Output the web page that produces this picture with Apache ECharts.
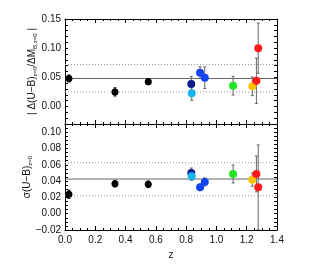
<!DOCTYPE html>
<html><head><meta charset="utf-8">
<script src="https://cdn.jsdelivr.net/npm/echarts@6/dist/echarts.min.js"></script>
<style>html,body{margin:0;padding:0;background:#fff}#c{width:328px;height:279px}</style>
</head><body><div id="c"></div>
<script>
// redshifts of the samples
const zVals   = [0.026, 0.33, 0.55, 0.834, 0.837, 0.892, 0.923, 1.11, 1.237, 1.264, 1.276];
const colors  = ['#000000','#000000','#000000','#0c1a8c','#18b4f0','#1244f2','#1244f2','#22e622','#ffc000','#ff1a1a','#ff1a1a'];
// top panel: |Δ(U-B)/ΔM_B|
const topVals = [0.048, 0.025, 0.0425, 0.0386, 0.0226, 0.058, 0.0495, 0.0357, 0.0346, 0.044, 0.0998];
const topErr  = [0.006, 0.007, 0.005, 0.013, 0.012, 0.010, 0.0185, 0.016, 0.016, 0.039, 0.043];
const topRef  = [0.048, 0.072, 0.025];   // solid, dotted, dotted
// bottom panel: σ(U-B)
const botVals = [0.0238, 0.0368, 0.036, 0.050, 0.0458, 0.0323, 0.039, 0.0487, 0.0417, 0.0487, 0.0323];
const botErr  = [0.005, 0.004, 0.004, 0.006, 0.005, 0.004, 0.005, 0.011, 0.008, 0.022, 0.052];
const botRef  = [0.0425, 0.0625, 0.022];

const font = 'Liberation Sans, Arial, sans-serif';
const grids = [
  {left: 65, right: 51, top: 19, height: 105},
  {left: 65, right: 51, top: 124, height: 106}
];
function xAx(gi, show, pos) {
  return {type:'value', gridIndex: gi, min:0, max:1.4, interval:0.2, position: pos,
    axisLine:{show:true, onZero:false, lineStyle:{color:'#000', width:1}},
    axisTick:{show:true, inside:true, length:4, lineStyle:{color:'#000'}},
    minorTick:{show:true, splitNumber:4, length:2, lineStyle:{color:'#000'}},
    splitLine:{show:false},
    axisLabel:{show: show, color:'#111', fontSize:10, fontFamily:font, margin:5,
      formatter: v => v.toFixed(1)},
    name: show ? 'z' : '', nameLocation:'middle', nameGap:20,
    nameTextStyle:{color:'#111', fontSize:10, fontFamily:font}
  };
}
function yAx(gi, min, max, step, major, pos, name, gap) {
  return {type:'value', gridIndex: gi, min:min, max:max, interval:step, position: pos,
    axisLine:{show:true, onZero:false, lineStyle:{color:'#000', width:1}},
    axisTick:{show:true, inside:true, length:3, lineStyle:{color:'#000'}},
    splitLine:{show:false},
    axisLabel:{show: pos === 'left', color:'#111', fontSize:10, fontFamily:font, margin:4,
      formatter: v => Math.abs(v/major - Math.round(v/major)) < 1e-6 ? v.toFixed(2).replace('-', '\u2212') : ''},
    name: name || '', nameLocation:'middle', nameRotate:90, nameGap: gap || 0,
    nameMoveOverlap: false,
    nameTextStyle:{color:'#111', fontSize:10, fontFamily:font, lineHeight:12,
      rich:{
        m:{fontSize:10, fontFamily:font, color:'#111', lineHeight:12},
        s:{fontSize:6, fontFamily:font, color:'#111', lineHeight:12, verticalAlign:'bottom', padding:[4,0,0,0]}
      }}
  };
}
const xAxis = [xAx(0,false,'bottom'), xAx(0,false,'top'), xAx(1,true,'bottom'), xAx(1,false,'top')];
const yAxis = [
  yAx(0, -0.03, 0.15, 0.01, 0.05, 'left', '{m|| \u0394(U\u2212B)}{s|z=0}{m|/\u0394M}{s|B,z=0}{m| |}', 27),
  yAx(0, -0.03, 0.15, 0.01, 0.05, 'right'),
  yAx(1, -0.02, 0.11, 0.005, 0.02, 'left', '{m|\u03c3(U\u2212B)}{s|z=0}', 32),
  yAx(1, -0.02, 0.11, 0.005, 0.02, 'right')
];

function refLines(ref, xi, yi) {
  const styles = [{color:'#666', width:1, type:'solid'}, {color:'#999', width:1, type:[1,2]}, {color:'#999', width:1, type:[1,2]}];
  return ref.map((v, i) => ({
    type:'line', xAxisIndex:xi, yAxisIndex:yi, symbol:'none', silent:true,
    data:[[0, v],[1.4, v]], lineStyle: styles[i], z:1
  }));
}
function errBars(vals, errs, xi, yi) {
  return {
    type:'custom', xAxisIndex:xi, yAxisIndex:yi, clip:true, z:2,
    data: zVals.map((z, i) => [z, vals[i] - errs[i], vals[i] + errs[i], i]),
    renderItem: function(params, api) {
      const lo = api.coord([api.value(0), api.value(1)]);
      const hi = api.coord([api.value(0), api.value(2)]);
      const idx = api.value(3);
      const col = idx < 3 ? '#000' : '#666';
      const c = 1.5;
      const st = {stroke: col, lineWidth: 1};
      return {type:'group', children:[
        {type:'line', shape:{x1:lo[0], y1:lo[1], x2:hi[0], y2:hi[1]}, style:st},
        {type:'line', shape:{x1:lo[0]-c, y1:lo[1], x2:lo[0]+c, y2:lo[1]}, style:st},
        {type:'line', shape:{x1:hi[0]-c, y1:hi[1], x2:hi[0]+c, y2:hi[1]}, style:st}
      ]};
    }
  };
}
function points(vals, xi, yi) {
  return {
    type:'scatter', xAxisIndex:xi, yAxisIndex:yi, z:3,
    data: zVals.map((z, i) => ({value:[z, vals[i]],
      symbolSize: i < 3 ? 7 : 8,
      itemStyle:{color: colors[i], opacity:1}}))
  };
}

const chart = echarts.init(document.getElementById('c'), null, {renderer:'canvas'});
chart.setOption({
  animation:false,
  backgroundColor:'#fff',
  grid: grids,
  xAxis: xAxis,
  yAxis: yAxis,
  series: [
    ...refLines(topRef, 0, 0),
    ...refLines(botRef, 2, 2),
    errBars(topVals, topErr, 0, 0),
    errBars(botVals, botErr, 2, 2),
    points(topVals, 0, 0),
    points(botVals, 2, 2)
  ]
});
</script></body></html>
